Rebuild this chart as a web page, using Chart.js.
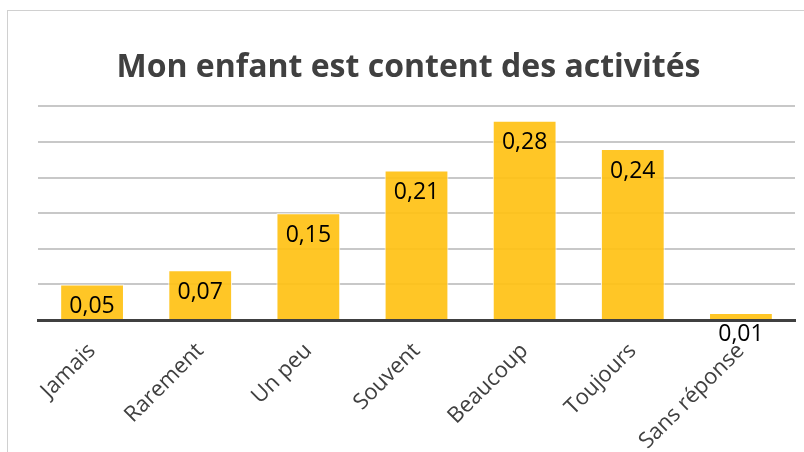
<!DOCTYPE html>
<html>
<head>
<meta charset="utf-8">
<script src="https://cdn.jsdelivr.net/npm/chart.js@4"></script>
<style>
  html, body { margin: 0; padding: 0; background: #fff; overflow: hidden; }
  #wrap { position: relative; width: 804px; height: 452px; }
  #frame { position: absolute; left: 7px; top: 10px; width: 820px; height: 460px; border: 1px solid #d0d0d0; box-sizing: border-box; }
  canvas { position: absolute; left: 0; top: 0; }
</style>
</head>
<body>
<div id="wrap">
  <div id="frame"></div>
  <canvas id="chart" width="804" height="452"></canvas>
</div>
<script>
var categories = ['Jamais', 'Rarement', 'Un peu', 'Souvent', 'Beaucoup', 'Toujours', 'Sans réponse'];
var values = [0.05, 0.07, 0.15, 0.21, 0.28, 0.24, 0.01];
var yTicks = [0, 0.05, 0.10, 0.15, 0.20, 0.25, 0.30];

var barLabels = {
  id: 'barLabels',
  afterDatasetsDraw: function(chart) {
    var ctx = chart.ctx;
    var meta = chart.getDatasetMeta(0);
    ctx.save();
    ctx.font = '23px "Open Sans"';
    ctx.fillStyle = '#000';
    ctx.textAlign = 'center';
    ctx.textBaseline = 'middle';
    meta.data.forEach(function(bar, i) {
      var txt = values[i].toFixed(2).replace('.', ',');
      ctx.fillText(txt, bar.x, bar.y + 22);
    });
    ctx.restore();
  }
};

new Chart(document.getElementById('chart').getContext('2d'), {
  type: 'bar',
  data: {
    labels: categories,
    datasets: [{
      data: values,
      backgroundColor: 'rgba(255, 193, 20, 0.92)',
      borderColor: '#ffffff',
      borderWidth: 1,
      categoryPercentage: 1,
      barPercentage: 0.59
    }]
  },
  options: {
    responsive: false,
    animation: false,
    layout: { padding: { left: 22, right: 9, top: 0, bottom: 0 } },
    plugins: {
      legend: { display: false },
      tooltip: { enabled: false },
      title: {
        display: true,
        text: 'Mon enfant est content des activités',
        color: '#404040',
        font: { family: '"Open Sans"', size: 32, weight: 'bold' },
        padding: { top: 49, bottom: 19 }
      }
    },
    scales: {
      x: {
        grid: { display: false },
        border: { display: true, color: '#404040', width: 3 },
        ticks: {
          color: '#404040',
          font: { family: '"Open Sans"', size: 22 },
          minRotation: 45,
          maxRotation: 45,
          padding: 10
        },
        afterFit: function(scale) { scale.height = 132; }
      },
      y: {
        min: 0,
        max: 0.30,
        afterBuildTicks: function(scale) {
          scale.ticks = yTicks.map(function(v) { return { value: v }; });
        },
        grid: { color: '#c8c8c8', lineWidth: 2, drawTicks: false },
        border: { display: false },
        ticks: { display: false },
        afterFit: function(scale) { scale.width = 16; }
      }
    }
  },
  plugins: [barLabels]
});
</script>
</body>
</html>
